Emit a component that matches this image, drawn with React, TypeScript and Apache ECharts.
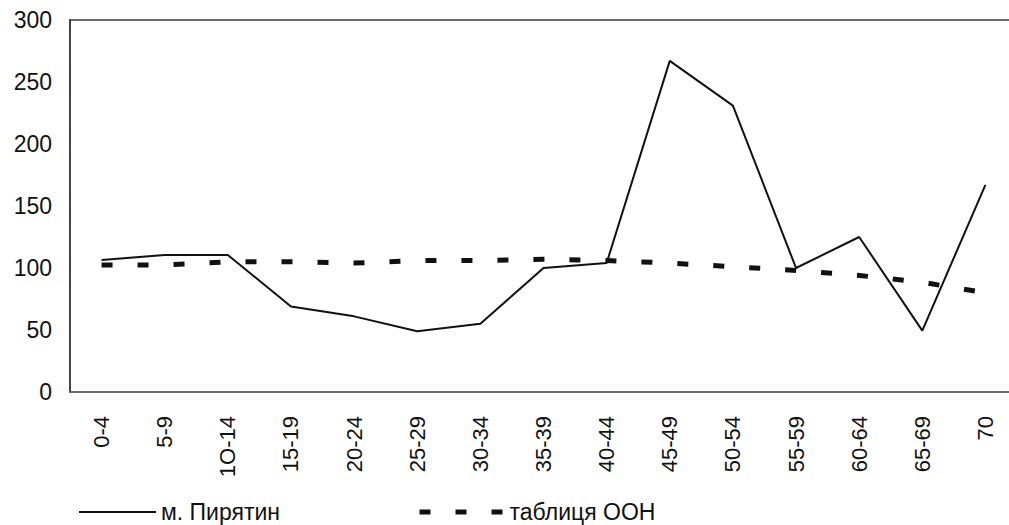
import React, { useEffect, useRef } from "react";
import * as echarts from "echarts";

const categories = ["0-4", "5-9", "1O-14", "15-19", "20-24", "25-29", "30-34", "35-39", "40-44", "45-49", "50-54", "55-59", "60-64", "65-69", "70"];
const pyriatyn = [106.5, 110.5, 110.5, 69, 61, 49, 55, 100, 104, 267, 231, 100, 125, 49.5, 167];
const unTable = [102.5, 102.5, 105, 105, 104, 106, 106, 107, 106, 104, 101, 98, 94, 88.5, 80];
const yTicks = { min: 0, max: 300, interval: 50 };
const seriesNames = ["м. Пирятин", "таблиця ООН"];

const FONT = "'Liberation Sans', Arial, Helvetica, sans-serif";

export default function App() {
  const ref = useRef<HTMLDivElement>(null);
  useEffect(() => {
    if (!ref.current) return;
    const chart = echarts.init(ref.current, undefined, { renderer: "svg" });
    chart.setOption({
      animation: false,
      backgroundColor: "#ffffff",
      grid: {
        left: 70,
        width: 947,
        top: 20,
        bottom: 133,
        outerBoundsMode: "none",
        containLabel: false,
        show: true,
        borderColor: "#6a6a6a",
        borderWidth: 2,
        backgroundColor: "transparent",
      },
      legend: [
        {
          data: [seriesNames[0]],
          left: 73,
          top: 495,
          itemWidth: 77,
          itemHeight: 22,
          itemStyle: { opacity: 0 },
          lineStyle: { color: "#111", width: 2 },
          textStyle: { fontSize: 23, color: "#111", fontFamily: FONT, lineHeight: 24 },
        },
        {
          data: [seriesNames[1]],
          left: 412,
          top: 495,
          itemWidth: 85,
          itemHeight: 22,
          itemStyle: { opacity: 0 },
          lineStyle: { color: "#111", width: 5, type: [11, 25] },
          textStyle: { fontSize: 23, color: "#111", fontFamily: FONT, lineHeight: 24 },
        },
      ],
      xAxis: {
        type: "category",
        data: categories,
        boundaryGap: true,
        axisLine: { show: true, lineStyle: { color: "#6a6a6a", width: 2 } },
        axisTick: { show: false },
        splitLine: { show: false },
        axisLabel: {
          rotate: 90,
          interval: 0,
          margin: 24,
          fontSize: 22,
          color: "#111",
          fontFamily: FONT,
        },
      },
      yAxis: {
        type: "value",
        min: yTicks.min,
        max: yTicks.max,
        interval: yTicks.interval,
        axisLine: { show: true, lineStyle: { color: "#444", width: 2 } },
        axisTick: { show: false },
        splitLine: { show: false },
        axisLabel: { fontSize: 23, color: "#111", margin: 18, fontFamily: FONT },
      },
      series: [
        {
          name: seriesNames[0],
          type: "line",
          data: pyriatyn,
          symbol: "none",
          lineStyle: { color: "#111", width: 2 },
          itemStyle: { color: "#111" },
        },
        {
          name: seriesNames[1],
          type: "line",
          data: unTable,
          symbol: "none",
          lineStyle: { color: "#111", width: 5, type: [11, 25] },
          itemStyle: { color: "#111" },
        },
      ],
    });
    return () => chart.dispose();
  }, []);
  return (
    <div
      ref={ref}
      style={{ position: "fixed", left: 0, top: 0, width: 1009, height: 525 }}
    />
  );
}
